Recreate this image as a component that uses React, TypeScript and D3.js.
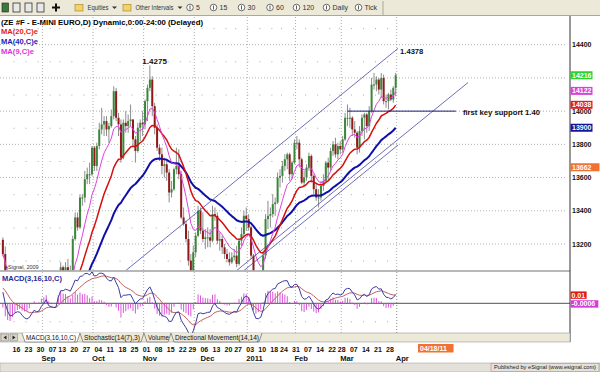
import React from "react";
import * as d3 from "d3";

// Closes before the first visible bar (Jun 21 – Aug 9 2010), only feed the averages
const priorCloses = [12300, 12280, 12300, 12330, 12370, 12270, 12190, 12220, 12500, 12550, 12610, 12630, 12680, 12630, 12600, 12720, 12740, 12930, 12920, 12920, 12880, 12760, 12890, 12890, 13000, 12980, 12980, 13050, 13040, 13180, 13210, 13140, 13170, 13270, 13220];

// date, open, high, low, close
const bars: [string, number, number, number, number][] = [
  ["2010-08-10", 13225, 13240, 13125, 13140], ["2010-08-11", 13140, 13185, 12870, 12880], ["2010-08-12", 12880, 12900, 12780, 12810], ["2010-08-13", 12810, 12830, 12740, 12750],
  ["2010-08-16", 12750, 12850, 12720, 12820], ["2010-08-17", 12820, 12900, 12790, 12850], ["2010-08-18", 12850, 12880, 12800, 12840], ["2010-08-19", 12840, 12880, 12780, 12800], ["2010-08-20", 12800, 12810, 12680, 12700],
  ["2010-08-23", 12700, 12740, 12620, 12640], ["2010-08-24", 12640, 12660, 12580, 12620], ["2010-08-25", 12620, 12680, 12590, 12650], ["2010-08-26", 12650, 12740, 12640, 12720], ["2010-08-27", 12720, 12770, 12660, 12750],
  ["2010-08-30", 12750, 12760, 12640, 12650], ["2010-08-31", 12650, 12700, 12620, 12680], ["2010-09-01", 12680, 12810, 12670, 12790], ["2010-09-02", 12790, 12840, 12770, 12810], ["2010-09-03", 12810, 12900, 12800, 12880],
  ["2010-09-07", 12880, 12890, 12660, 12670], ["2010-09-08", 12670, 12730, 12640, 12710], ["2010-09-09", 12710, 12760, 12670, 12690], ["2010-09-10", 12690, 12720, 12650, 12700],
  ["2010-09-13", 12700, 13000, 12690, 12980], ["2010-09-14", 12980, 13090, 12950, 13060], ["2010-09-15", 13060, 13070, 12940, 12990], ["2010-09-16", 12990, 13090, 12960, 13060], ["2010-09-17", 13060, 13110, 13010, 13040],
  ["2010-09-20", 13040, 13070, 13000, 13040], ["2010-09-21", 13040, 13250, 13010, 13230], ["2010-09-22", 13230, 13390, 13220, 13360], ["2010-09-23", 13360, 13390, 13280, 13300], ["2010-09-24", 13300, 13500, 13290, 13480],
  ["2010-09-27", 13480, 13500, 13430, 13480], ["2010-09-28", 13480, 13640, 13450, 13590], ["2010-09-29", 13590, 13660, 13560, 13620], ["2010-09-30", 13620, 13690, 13560, 13620], ["2010-10-01", 13620, 13790, 13610, 13780],
  ["2010-10-04", 13780, 13790, 13640, 13670], ["2010-10-05", 13670, 13810, 13640, 13790], ["2010-10-06", 13790, 13930, 13770, 13890], ["2010-10-07", 13890, 14020, 13860, 13920], ["2010-10-08", 13920, 13970, 13850, 13940],
  ["2010-10-11", 13940, 13970, 13850, 13890], ["2010-10-12", 13890, 13930, 13810, 13910], ["2010-10-13", 13910, 14010, 13900, 13970], ["2010-10-14", 13970, 14150, 13950, 14120], ["2010-10-15", 14120, 14140, 13940, 13960],
  ["2010-10-18", 13960, 13990, 13850, 13920], ["2010-10-19", 13920, 13950, 13690, 13720], ["2010-10-20", 13720, 13950, 13710, 13930], ["2010-10-21", 13930, 14000, 13870, 13910], ["2010-10-22", 13910, 13980, 13870, 13940],
  ["2010-10-25", 13940, 14040, 13910, 13950], ["2010-10-26", 13950, 13950, 13790, 13830], ["2010-10-27", 13830, 13850, 13690, 13760], ["2010-10-28", 13760, 13930, 13750, 13900], ["2010-10-29", 13900, 13950, 13820, 13930],
  ["2010-11-01", 13930, 14000, 13850, 13920], ["2010-11-02", 13920, 14070, 13890, 14060], ["2010-11-03", 14060, 14160, 13940, 14140], ["2010-11-04", 14140, 14275, 14120, 14190], ["2010-11-05", 14190, 14210, 13970, 14030],
  ["2010-11-08", 14030, 14050, 13860, 13900], ["2010-11-09", 13900, 13920, 13760, 13780], ["2010-11-10", 13780, 13800, 13700, 13740], ["2010-11-11", 13740, 13780, 13620, 13670], ["2010-11-12", 13670, 13720, 13600, 13680],
  ["2010-11-15", 13680, 13700, 13580, 13630], ["2010-11-16", 13630, 13650, 13450, 13510], ["2010-11-17", 13510, 13580, 13480, 13530], ["2010-11-18", 13530, 13660, 13520, 13650], ["2010-11-19", 13650, 13780, 13620, 13670],
  ["2010-11-22", 13670, 13770, 13590, 13620], ["2010-11-23", 13620, 13640, 13350, 13360], ["2010-11-24", 13360, 13420, 13310, 13320], ["2010-11-26", 13320, 13340, 13210, 13230],
  ["2010-11-29", 13230, 13280, 13070, 13100], ["2010-11-30", 13100, 13140, 12960, 12990], ["2010-12-01", 12990, 13190, 12980, 13150], ["2010-12-02", 13150, 13270, 13120, 13250], ["2010-12-03", 13250, 13430, 13240, 13400],
  ["2010-12-06", 13400, 13420, 13260, 13280], ["2010-12-07", 13280, 13390, 13210, 13230], ["2010-12-08", 13230, 13290, 13170, 13240], ["2010-12-09", 13240, 13300, 13180, 13240], ["2010-12-10", 13240, 13290, 13180, 13220],
  ["2010-12-13", 13220, 13430, 13210, 13380], ["2010-12-14", 13380, 13420, 13340, 13370], ["2010-12-15", 13370, 13390, 13200, 13220], ["2010-12-16", 13220, 13270, 13160, 13230], ["2010-12-17", 13230, 13250, 13140, 13180],
  ["2010-12-20", 13180, 13200, 13110, 13140], ["2010-12-21", 13140, 13170, 13090, 13110], ["2010-12-22", 13110, 13150, 13070, 13090], ["2010-12-23", 13090, 13150, 13080, 13120],
  ["2010-12-27", 13120, 13170, 13100, 13130], ["2010-12-28", 13130, 13190, 13060, 13080], ["2010-12-29", 13080, 13230, 13070, 13220], ["2010-12-30", 13220, 13300, 13190, 13260], ["2010-12-31", 13260, 13400, 13240, 13370],
  ["2011-01-03", 13370, 13420, 13280, 13350], ["2011-01-04", 13350, 13380, 13280, 13300], ["2011-01-05", 13300, 13310, 13110, 13130], ["2011-01-06", 13130, 13140, 12970, 12990], ["2011-01-07", 12990, 13020, 12850, 12900],
  ["2011-01-10", 12900, 12960, 12860, 12940], ["2011-01-11", 12940, 13010, 12900, 12960], ["2011-01-12", 12960, 13160, 12940, 13130], ["2011-01-13", 13130, 13380, 13110, 13350], ["2011-01-14", 13350, 13460, 13290, 13370],
  ["2011-01-18", 13370, 13420, 13300, 13380], ["2011-01-19", 13380, 13500, 13360, 13440], ["2011-01-20", 13440, 13480, 13370, 13450], ["2011-01-21", 13450, 13630, 13440, 13600],
  ["2011-01-24", 13600, 13650, 13540, 13610], ["2011-01-25", 13610, 13700, 13570, 13670], ["2011-01-26", 13670, 13740, 13640, 13710], ["2011-01-27", 13710, 13750, 13650, 13740], ["2011-01-28", 13740, 13750, 13580, 13620],
  ["2011-01-31", 13620, 13700, 13590, 13690], ["2011-02-01", 13690, 13830, 13680, 13810], ["2011-02-02", 13810, 13850, 13770, 13810], ["2011-02-03", 13810, 13830, 13660, 13710], ["2011-02-04", 13710, 13720, 13560, 13570],
  ["2011-02-07", 13570, 13640, 13550, 13600], ["2011-02-08", 13600, 13680, 13580, 13660], ["2011-02-09", 13660, 13750, 13640, 13730], ["2011-02-10", 13730, 13740, 13570, 13610], ["2011-02-11", 13610, 13620, 13500, 13530],
  ["2011-02-14", 13530, 13570, 13460, 13480], ["2011-02-15", 13480, 13530, 13420, 13480], ["2011-02-16", 13480, 13580, 13460, 13550], ["2011-02-17", 13550, 13620, 13520, 13580], ["2011-02-18", 13580, 13700, 13570, 13690],
  ["2011-02-22", 13690, 13720, 13580, 13660], ["2011-02-23", 13660, 13780, 13640, 13760], ["2011-02-24", 13760, 13820, 13730, 13800], ["2011-02-25", 13800, 13840, 13720, 13740],
  ["2011-02-28", 13740, 13810, 13710, 13790], ["2011-03-01", 13790, 13820, 13740, 13770], ["2011-03-02", 13770, 13850, 13750, 13830], ["2011-03-03", 13830, 13990, 13820, 13960], ["2011-03-04", 13960, 14040, 13910, 13960],
  ["2011-03-07", 13960, 14020, 13900, 13960], ["2011-03-08", 13960, 13970, 13850, 13890], ["2011-03-09", 13890, 13940, 13840, 13870], ["2011-03-10", 13870, 13880, 13740, 13780], ["2011-03-11", 13780, 13910, 13750, 13880],
  ["2011-03-14", 13880, 13980, 13850, 13960], ["2011-03-15", 13960, 13990, 13830, 13980], ["2011-03-16", 13980, 13990, 13870, 13910], ["2011-03-17", 13910, 14030, 13880, 14000], ["2011-03-18", 14000, 14200, 13990, 14160],
  ["2011-03-21", 14160, 14230, 14130, 14160], ["2011-03-22", 14160, 14210, 14120, 14190], ["2011-03-23", 14190, 14200, 14100, 14130], ["2011-03-24", 14130, 14230, 14080, 14200], ["2011-03-25", 14200, 14220, 14040, 14060],
  ["2011-03-28", 14060, 14100, 14020, 14060], ["2011-03-29", 14060, 14110, 14010, 14100], ["2011-03-30", 14100, 14130, 14060, 14070], ["2011-03-31", 14070, 14150, 14050, 14140], ["2011-04-01", 14140, 14230, 14090, 14216],
];

const weekTicks = ["2010-08-16", "2010-08-23", "2010-08-30", "2010-09-07", "2010-09-13", "2010-09-20", "2010-09-27", "2010-10-04", "2010-10-11", "2010-10-18", "2010-10-25", "2010-11-01", "2010-11-08", "2010-11-15", "2010-11-22", "2010-11-29", "2010-12-06", "2010-12-13", "2010-12-20", "2010-12-27", "2011-01-03", "2011-01-10", "2011-01-18", "2011-01-24", "2011-01-31", "2011-02-07", "2011-02-14", "2011-02-22", "2011-02-28", "2011-03-07", "2011-03-14", "2011-03-21", "2011-03-28"];
const monthLabels: [string, string][] = [["2010-09-01", "Sep"], ["2010-10-01", "Oct"], ["2010-11-01", "Nov"], ["2010-12-06", "Dec"], ["2011-01-03", "2011"], ["2011-02-01", "Feb"], ["2011-03-01", "Mar"], ["2011-04-01", "Apr"]];
const monthGrid = ["2010-09-01", "2010-10-01", "2010-11-01", "2010-12-01", "2011-01-03", "2011-02-01", "2011-03-01", "2011-04-01"];
const priceTicks = [13200, 13400, 13600, 13800, 14000, 14200, 14400];
// 14200 sits under the last-price box in the reference
const priceLabels = [13200, 13400, 13600, 13800, 14000, 14400];
const halfTicks = [13100, 13300, 13500, 13700, 13900, 14100, 14300, 14500];
const priceBoxes: [string, number, string][] = [["14216", 14216, "#2ed12e"], ["14122", 14122, "#dc3fdc"], ["14038", 14038, "#e02020"], ["13900", 13900, "#14149a"], ["13662", 13662, "#f07232"]];
const macdBoxes: [string, number, string][] = [["0.01", 0.0092, "#e01818"], ["-0.0006", -0.0006, "#d63cd6"]];
// trading-day index (from Aug 16 2010) and price at both ends
const channelLines: [number, number, number, number][] = [[47, 13040, 160, 14378], [93, 13040, 189, 14172], [96, 13040, 160, 13796]];
const supportLine: [number, number, number] = [139, 184, 14000];
const intervals = ["5", "15", "30", "60", "120", "Daily", "Tick"];
const studyTabs = ["MACD(3,16,10,C)", "Stochastic(14(7),3)", "Volume", "Directional Movement(14,14)"];

function ema(vals: number[], n: number) {
  const a = 2 / (n + 1);
  let e = vals[0];
  return vals.map((v, i) => (e = i === 0 ? v : e + a * (v - e)));
}

const FONT = "'Liberation Sans', Arial, sans-serif";

export default function App() {
  const base = bars.findIndex((b) => b[0] === "2010-08-16");
  const xIdx = d3.scaleLinear().domain([0, 155]).range([12.5, 12.5 + 155 * 2.41]);
  const xb = (k: number) => xIdx(k - base);
  const xd = (d: string) => xb(bars.findIndex((b) => b[0] === d));
  const y = d3.scaleLinear().domain([13200, 14400]).range([244, 44.7]);
  const yM = d3.scaleLinear().domain([-0.033, 0.0359]).range([333, 271]);

  const allCloses = [...priorCloses, ...bars.map((b) => b[4])];
  const off = priorCloses.length;
  const maSeries = [
    { n: 40, color: "#1010a8", w: 2 },
    { n: 20, color: "#d41010", w: 1.5 },
    { n: 9, color: "#e040e0", w: 1 },
  ].map((m) => ({ ...m, vals: ema(allCloses, m.n).slice(off) }));

  const e3 = ema(allCloses, 3);
  const e16 = ema(allCloses, 16);
  const macdAll = e3.map((v, i) => (v - e16[i]) / 10000);
  const sigAll = ema(macdAll, 10);
  const macd = macdAll.slice(off);
  const sig = sigAll.slice(off);
  const hist = macd.map((v, i) => v - sig[i]);

  const lineP = d3.line<number>().x((_, i) => xb(i)).y((v) => y(v));
  const lineM = d3.line<number>().x((_, i) => xb(i)).y((v) => yM(v));

  const lastX = xb(bars.length - 1);
  const dotXs = weekTicks.map((d) => xd(d) + 1);

  const tabX = [22, 80, 144, 171, 262];
  const tabTextLen = [50, 56, 21, 84];

  return (
    <svg width={600} height={372} style={{ position: "fixed", left: 0, top: 0, display: "block" }} fontFamily={FONT}>
      <defs>
        <clipPath id="mainClip"><rect x={0} y={16} width={570} height={254.5} /></clipPath>
        <clipPath id="macdClip"><rect x={0} y={272} width={570} height={61} /></clipPath>
      </defs>
      <rect x={0} y={0} width={600} height={372} fill="#fff" />

      {/* toolbar */}
      <rect x={0} y={0} width={600} height={15.5} fill="#ece9d8" />
      <line x1={0} x2={600} y1={15.5} y2={15.5} stroke="#aca899" />
      <rect x={2} y={3} width={6.5} height={9} fill="#3a7a3a" stroke="#222" strokeWidth={0.6} />
      <rect x={13} y={3} width={7} height={9} fill="#e8e8e8" stroke="#333" strokeWidth={0.8} />
      <rect x={25} y={3} width={7} height={9} fill="#e8e8e8" stroke="#333" strokeWidth={0.8} />
      <rect x={37} y={3} width={7} height={9} fill="#e8e8e8" stroke="#333" strokeWidth={0.8} />
      <path d="M56 3.5 V11.5 M52 7.5 H60" stroke="#111" strokeWidth={2} />
      <rect x={75} y={4.5} width={8} height={6.5} fill="#f2d36b" stroke="#a08020" strokeWidth={0.6} />
      <text x={87.5} y={10.3} fontSize={7} fill="#333" textLength={21} lengthAdjust="spacingAndGlyphs">Equities</text>
      <path d="M112 6.5 l2.5 2.5 l2.5 -2.5 z" fill="#333" />
      <rect x={123} y={4.5} width={8} height={6.5} fill="#f2d36b" stroke="#a08020" strokeWidth={0.6} />
      <text x={135.5} y={10.3} fontSize={7} fill="#333" textLength={38} lengthAdjust="spacingAndGlyphs">Other Intervals</text>
      <path d="M177.5 6.5 l2.5 2.5 l2.5 -2.5 z" fill="#333" />
      {intervals.map((t, i) => {
        const xs = [190, 213.5, 241.5, 270, 296.5, 326.5, 358.5][i];
        return (
          <g key={t}>
            <circle cx={xs} cy={7.5} r={3.3} fill="#fff" stroke="#333" strokeWidth={0.7} />
            <line x1={xs} x2={xs} y1={5.5} y2={9.5} stroke="#333" strokeWidth={0.8} />
            <text x={xs + 6} y={10.3} fontSize={7} fill="#333">{t}</text>
          </g>
        );
      })}
      <line x1={383} x2={383} y1={1} y2={15} stroke="#aca899" />

      {/* header + legend */}
      <text x={1} y={24.6} fontSize={8} fontWeight="bold" fill="#000" textLength={202} lengthAdjust="spacingAndGlyphs">(ZE #F - E-MINI EURO,D) Dynamic,0:00-24:00 (Delayed)</text>
      <text x={1} y={34.3} fontSize={8} fontWeight="bold" fill="#e02020" textLength={37} lengthAdjust="spacingAndGlyphs">MA(20,C)e</text>
      <text x={1} y={44.3} fontSize={8} fontWeight="bold" fill="#2020c0" textLength={37} lengthAdjust="spacingAndGlyphs">MA(40,C)e</text>
      <text x={1} y={53.6} fontSize={8} fontWeight="bold" fill="#d838d8" textLength={33} lengthAdjust="spacingAndGlyphs">MA(9,C)e</text>

      {/* main grid */}
      {priceTicks.map((p) => (
        <line key={p} x1={0} x2={566} y1={y(p)} y2={y(p)} stroke="#9a9a9a" strokeWidth={0.8} strokeDasharray="1 2" />
      ))}
      {monthGrid.map((d) => (
        <g key={d}>
          <line x1={xd(d) + 1} x2={xd(d) + 1} y1={17} y2={270} stroke="#9a9a9a" strokeWidth={0.8} strokeDasharray="1 2" />
          <line x1={xd(d) + 1} x2={xd(d) + 1} y1={272} y2={333} stroke="#9a9a9a" strokeWidth={0.8} strokeDasharray="1 2" />
        </g>
      ))}
      {halfTicks.filter((p) => y(p) > 17 && y(p) < 270).map((p) =>
        dotXs.map((dx, j) => <rect key={p + "-" + j} x={dx} y={y(p)} width={1} height={1} fill="#a8a8a8" />)
      )}
      {dotXs.map((dx, j) => <rect key={"m" + j} x={dx} y={yM(-0.02)} width={1} height={1} fill="#a8a8a8" />)}

      <g clipPath="url(#mainClip)">
        {bars.map((b, k) => {
          const [, o, h, l, c] = b;
          const x = xb(k);
          const up = c >= o;
          const top = y(Math.max(o, c));
          const bot = y(Math.min(o, c));
          return (
            <g key={b[0]}>
              <line x1={x} x2={x} y1={y(h)} y2={y(l)} stroke="#8c8c8c" strokeWidth={1} />
              <rect x={x - 1} y={top} width={2} height={Math.max(1, bot - top)} fill={up ? "#3b863b" : "#8e1a1a"} />
            </g>
          );
        })}
        {maSeries.map((m) => (
          <path key={m.n} d={lineP(m.vals) || ""} fill="none" stroke={m.color} strokeWidth={m.w} strokeLinejoin="round" />
        ))}
        {channelLines.map(([i0, p0, i1, p1], k) => (
          <line key={k} x1={xIdx(i0)} y1={y(p0)} x2={xIdx(i1)} y2={y(p1)} stroke="#4848a8" strokeWidth={0.8} />
        ))}
        <line x1={xIdx(supportLine[0])} x2={xIdx(supportLine[1])} y1={y(supportLine[2])} y2={y(supportLine[2])} stroke="#1c1c80" strokeWidth={1} />
      </g>

      <text x={xd("2010-11-04") - 7.5} y={y(14275) - 1.8} fontSize={8} fontWeight="bold" fill="#111">1.4275</text>
      <text x={xIdx(160) + 2} y={y(14378) + 5.5} fontSize={7.6} fontWeight="bold" fill="#111">1.4378</text>
      <text x={xIdx(184) + 7} y={y(14000) + 3.4} fontSize={7.6} fontWeight="bold" fill="#111" textLength={77} lengthAdjust="spacingAndGlyphs">first key support 1.40</text>
      <text x={5} y={269} fontSize={5.5} fill="#333">eSignal, 2009</text>

      {/* panel separator */}
      <line x1={0} x2={570} y1={271} y2={271} stroke="#a0a0a0" strokeWidth={1.5} />

      {/* MACD */}
      <line x1={0} x2={570} y1={yM(0)} y2={yM(0)} stroke="#505050" strokeWidth={1} />
      <g clipPath="url(#macdClip)">
        {hist.map((h, i) => (
          <line key={i} x1={xb(i)} x2={xb(i)} y1={yM(0)} y2={yM(h)} stroke="#d443d4" strokeWidth={0.9} />
        ))}
        <path d={lineM(sig) || ""} fill="none" stroke="#c06060" strokeWidth={1} />
        <path d={lineM(macd) || ""} fill="none" stroke="#3c3ca0" strokeWidth={1} />
      </g>
      <text x={2} y={281} fontSize={7.6} fontWeight="bold" fill="#2a2a9a" textLength={60} lengthAdjust="spacingAndGlyphs">MACD(3,16,10,C)</text>
      <line x1={lastX + 1} x2={lastX + 1} y1={272} y2={333} stroke="#9a9a9a" strokeWidth={0.8} strokeDasharray="1 2" />

      {/* right axis */}
      <line x1={570} x2={570} y1={16} y2={342} stroke="#333" strokeWidth={1} />
      {priceLabels.map((p) => (
        <text key={p} x={572} y={y(p) + 2.6} fontSize={7} fontWeight="bold" fill="#111">{p}</text>
      ))}
      {priceBoxes.map(([t, v, c]) => (
        <g key={t}>
          <rect x={570.5} y={y(v) - 4} width={t === "13662" ? 29 : 22} height={8} fill={c} />
          <text x={572} y={y(v) + 2.6} fontSize={7} fontWeight="bold" fill="#fff">{t}</text>
        </g>
      ))}
      {macdBoxes.map(([t, v, c]) => (
        <g key={t}>
          <rect x={570.5} y={yM(v) - 3.6} width={t.length * 3.9 + 0.5} height={7.4} fill={c} />
          <text x={571.5} y={yM(v) + 2.5} fontSize={7} fontWeight="bold" fill="#fff">{t}</text>
        </g>
      ))}

      {/* study tabs */}
      <rect x={0} y={333} width={570} height={9} fill="#ece9d8" stroke="#999" strokeWidth={0.6} />
      <rect x={1} y={334} width={7.5} height={7} fill="#d8d4c8" stroke="#777" strokeWidth={0.5} />
      <path d="M6.5 335.5 v4 l-3 -2 z" fill="#222" />
      <rect x={10} y={334} width={7.5} height={7} fill="#d8d4c8" stroke="#777" strokeWidth={0.5} />
      <path d="M12.5 335.5 v4 l3 -2 z" fill="#222" />
      {studyTabs.map((t, i) => {
        const xs = tabX[i];
        const xe = tabX[i + 1];
        return (
          <g key={t}>
            <path d={`M${xs} 333 L${xs + 3} 342 L${xe - 3} 342 L${xe} 333`} fill={i === 0 ? "#fff" : "#ece9d8"} stroke="#555" strokeWidth={0.6} />
            <text x={xs + 4} y={340.2} fontSize={6.4} fill="#111" textLength={tabTextLen[i]} lengthAdjust="spacingAndGlyphs">{t}</text>
          </g>
        );
      })}

      {/* date axis */}
      {weekTicks.map((d) => (
        <text key={d} x={xd(d)} y={351.8} fontSize={7} fontWeight="bold" fill="#111">{d.slice(8)}</text>
      ))}
      {monthLabels.map(([d, t]) => (
        <text key={t} x={xd(d)} y={361} fontSize={7.6} fontWeight="bold" fill="#111">{t}</text>
      ))}
      <rect x={418} y={344} width={35.5} height={8.5} fill="#f07232" />
      <text x={420} y={351.2} fontSize={7} fontWeight="bold" fill="#fff">04/18/11</text>

      {/* status bar */}
      <rect x={0} y={363} width={600} height={9} fill="#e4e1da" stroke="#a8a59c" strokeWidth={0.6} />
      <rect x={491} y={363.5} width={108} height={8} fill="#e4e1da" stroke="#8f8c84" strokeWidth={0.5} />
      <text x={494} y={369.3} fontSize={5.5} fill="#222" textLength={102} lengthAdjust="spacingAndGlyphs">Published by eSignal (www.esignal.com)</text>
    </svg>
  );
}
